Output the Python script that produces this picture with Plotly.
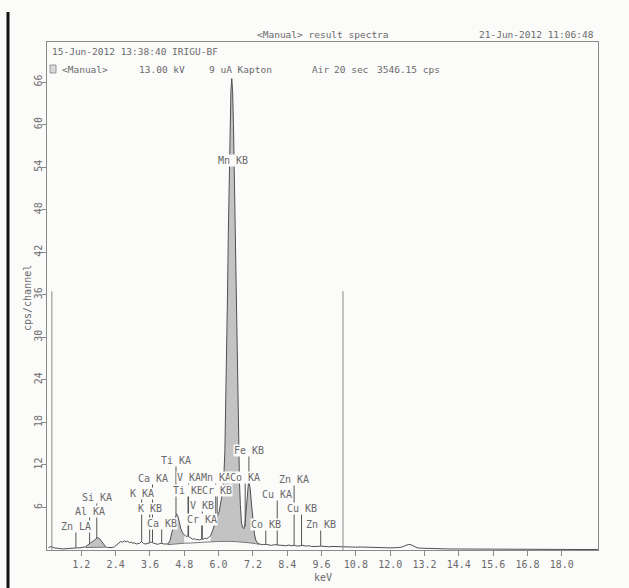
import plotly.graph_objects as go

# ---------------- data ----------------
kev = [0.05, 0.15, 0.25, 0.35, 0.45, 0.55, 0.65, 0.75, 0.85, 0.95, 1.05, 1.15, 1.25,
       1.35, 1.42, 1.49, 1.56, 1.63, 1.70, 1.77, 1.84, 1.91, 1.98, 2.05,
       2.12, 2.20, 2.28, 2.36, 2.44, 2.52, 2.58, 2.64, 2.70, 2.76, 2.82, 2.88, 2.94,
       3.00, 3.06, 3.12, 3.18, 3.24, 3.31, 3.38, 3.45, 3.52, 3.59, 3.66, 3.73, 3.80,
       3.87, 3.94, 4.01, 4.08, 4.15,
       4.22, 4.30, 4.36, 4.42, 4.48, 4.53, 4.58, 4.63, 4.68, 4.74, 4.80,
       4.86, 4.92, 4.98, 5.04, 5.10, 5.16, 5.22, 5.28, 5.34, 5.40, 5.46, 5.52, 5.58, 5.64,
       5.72, 5.78, 5.84, 5.90, 5.96, 6.02, 6.07, 6.11, 6.15, 6.19, 6.22, 6.25, 6.28,
       6.31, 6.34, 6.37, 6.40, 6.43, 6.46, 6.49, 6.52, 6.55, 6.58, 6.61, 6.64, 6.67,
       6.70, 6.73, 6.76, 6.80, 6.84, 6.88, 6.92, 6.96, 7.00, 7.05, 7.10, 7.15, 7.20,
       7.25, 7.30, 7.36, 7.42,
       7.48, 7.56, 7.65, 7.75, 7.85, 7.95, 8.05, 8.15, 8.25, 8.35, 8.45, 8.55, 8.65,
       8.75, 8.85, 8.95, 9.05, 9.15, 9.25, 9.35, 9.45, 9.57, 9.70, 9.85, 10.0, 10.2,
       10.4, 10.6, 10.8, 11.0, 11.2, 11.4, 11.6, 11.8, 12.0, 12.2, 12.4, 12.55, 12.65,
       12.75, 12.85, 12.95, 13.1, 13.3, 13.6, 14.0, 14.5, 15.0, 15.5, 16.0, 16.5, 17.0,
       17.5, 18.0, 18.5, 19.0, 19.27]
cps = [0.35, 0.5, 0.3, 0.2, 0.2, 0.15, 0.2, 0.2, 0.25, 0.25, 0.3, 0.3, 0.35,
       0.45, 0.7, 0.95, 1.1, 1.3, 1.55, 1.75, 1.6, 1.2, 0.75, 0.45,
       0.35, 0.3, 0.35, 0.45, 0.7, 1.0, 1.2, 1.1, 1.3, 1.15, 1.25, 1.05, 1.1,
       0.95, 1.0, 0.85, 0.9, 0.95, 1.2, 0.9, 0.85, 0.95, 1.05, 1.1, 0.95, 0.85,
       0.8, 0.9, 0.95, 0.85, 0.8,
       0.85, 1.3, 2.2, 3.4, 4.5, 5.1, 4.7, 3.8, 3.0, 2.4, 2.1,
       1.9, 2.0, 1.8, 1.6, 1.5, 1.6, 1.45, 1.5, 1.4, 1.55, 1.5, 1.65, 1.6, 1.75,
       2.0, 2.6, 3.4, 4.2, 4.8, 5.4, 6.3, 7.5, 9.0, 11.0, 14.0, 20.0, 27.3,
       35.7, 44.6, 53.0, 60.0, 64.7, 66.5, 64.7, 60.0, 53.0, 44.6, 35.7, 27.3, 20.0,
       14.0, 9.6, 6.4, 3.8, 3.2, 3.0, 3.6, 5.0, 7.3, 9.8, 8.8, 6.5, 4.1,
       2.3, 1.4, 1.0, 0.85,
       0.8, 0.75, 0.8, 0.7, 0.65, 0.75, 0.7, 0.6, 0.65, 0.6, 0.7, 0.6, 0.65,
       0.55, 0.6, 0.65, 0.55, 0.6, 0.5, 0.55, 0.5, 0.55, 0.5, 0.45, 0.5, 0.45,
       0.5, 0.45, 0.4, 0.42, 0.38, 0.35, 0.33, 0.3, 0.3, 0.32, 0.4, 0.65, 0.8,
       0.7, 0.45, 0.3, 0.25, 0.2, 0.2, 0.15, 0.15, 0.12, 0.12, 0.1, 0.1, 0.08,
       0.1, 0.08, 0.08, 0.06, 0.06]

# continuum under the fitted peaks
si_bg_kev = [1.35, 1.70, 2.05]
si_bg_cps = [0.35, 0.40, 0.40]
main_bg_kev = [4.22, 4.50, 4.80, 5.10, 5.40, 5.72, 6.00, 6.30, 6.60, 6.90, 7.20, 7.42]
main_bg_cps = [0.75, 0.85, 0.95, 1.00, 1.08, 1.15, 1.20, 1.22, 1.18, 1.08, 0.95, 0.80]

# shaded peak windows
window_lo = [1.35, 4.22, 5.72]
window_hi = [2.05, 4.80, 7.42]

# identified lines
line_names = ["Zn LA", "Al KA", "Si KA", "K KA", "K KB", "Ca KA", "Ca KB", "Ti KA",
              "Ti KB", "V KA", "V KB", "Cr KA", "Cr KB", "Mn KA", "Mn KB", "Fe KB",
              "Co KA", "Co KB", "Cu KA", "Zn KA", "Cu KB", "Zn KB"]
line_kev = [1.01, 1.49, 1.74, 3.31, 3.59, 3.69, 4.01, 4.51,
            4.93, 4.95, 5.43, 5.41, 5.95, 5.90, 6.49, 7.06,
            6.93, 7.65, 8.05, 8.64, 8.90, 9.57]
label_cps = [3.3, 5.4, 7.4, 8.0, 5.85, 10.1, 3.7, 12.6,
             8.4, 10.2, 6.3, 4.3, 8.4, 10.2, 54.9, 14.0,
             10.2, 3.6, 7.8, 9.9, 5.85, 3.6]
line_base_cps = [0.3, 0.95, 1.65, 1.2, 1.05, 1.05, 0.95, 5.0,
                 2.0, 2.0, 1.55, 1.55, 4.7, 4.2, 54.9, 9.7,
                 3.3, 0.8, 0.7, 0.65, 0.65, 0.55]

cursor_kev = [0.17, 10.35]
cursor_cps = [36.5, 36.5]

x_tick_vals = [1.2, 2.4, 3.6, 4.8, 6.0, 7.2, 8.4, 9.6, 10.8, 12.0, 13.2, 14.4, 15.6, 16.8, 18.0]
x_tick_text = ["1.2", "2.4", "3.6", "4.8", "6.0", "7.2", "8.4", "9.6", "10.8", "12.0",
               "13.2", "14.4", "15.6", "16.8", "18.0"]
y_tick_vals = [6, 12, 18, 24, 30, 36, 42, 48, 54, 60, 66]

title_text = "&lt;Manual&gt; result spectra"
print_date = "21-Jun-2012 11:06:48"
sample_line = "15-Jun-2012 13:38:40 IRIGU-BF"
cond_texts = ["&lt;Manual&gt;", "13.00 kV", "9 uA Kapton", "Air", "20 sec", "3546.15 cps"]

# ---------------- styling / layout ----------------
PAPER = "#fbfbfa"
TEXT = "#6a6a6a"
AXIS = "#8a8a8a"
FONT = "DejaVu Sans Mono"

L, R, T, B = 47, 31, 42, 38
W, H = 629, 588
PW, PH = W - L - R, H - T - B


def px_x(p):
    return (p - L) / PW


def px_y(p):
    return (H - B - p) / PH


fig = go.Figure()

all_bg_kev = si_bg_kev + main_bg_kev
all_bg_cps = si_bg_cps + main_bg_cps

# grey peak fills (spectrum down to the continuum)
for lo, hi in zip(window_lo, window_hi):
    sx = [k for k in kev if lo <= k <= hi]
    sy = [c for k, c in zip(kev, cps) if lo <= k <= hi]
    bx = [k for k in all_bg_kev if lo <= k <= hi]
    by = [c for k, c in zip(all_bg_kev, all_bg_cps) if lo <= k <= hi]
    fig.add_trace(go.Scatter(x=sx + bx[::-1], y=sy + by[::-1], fill="toself",
                             fillcolor="#c3c3c3", mode="lines",
                             line=dict(width=0), hoverinfo="skip"))

# continuum curves
fig.add_trace(go.Scatter(x=si_bg_kev, y=si_bg_cps, mode="lines",
                         line=dict(color="#777", width=1), hoverinfo="skip"))
fig.add_trace(go.Scatter(x=main_bg_kev, y=main_bg_cps, mode="lines",
                         line=dict(color="#777", width=1, shape="spline"), hoverinfo="skip"))

# line markers
mx, my = [], []
for e, top, base in zip(line_kev, label_cps, line_base_cps):
    if base < top:
        mx += [e, e, None]
        my += [top, base, None]
fig.add_trace(go.Scatter(x=mx, y=my, mode="lines", line=dict(color="#555", width=1),
                         hoverinfo="skip"))

# spectrum outline
fig.add_trace(go.Scatter(x=kev, y=cps, mode="lines", line=dict(color="#505050", width=1),
                         hoverinfo="skip"))

# cursors
cx, cy = [], []
for e, h in zip(cursor_kev, cursor_cps):
    cx += [e, e, None]
    cy += [0, h, None]
fig.add_trace(go.Scatter(x=cx, y=cy, mode="lines", line=dict(color="#8a8a8a", width=1),
                         hoverinfo="skip"))

# labels of identified lines (opaque, sit on top of the spectrum)
for name, e, yc in zip(line_names, line_kev, label_cps):
    fig.add_annotation(x=e, y=yc, xref="x", yref="y", text=name, showarrow=False,
                       xanchor="center", yanchor="middle",
                       bgcolor=PAPER, borderpad=0, font=dict(size=10, color=TEXT, family=FONT))

# header texts
hdr_font = dict(size=9.5, color=TEXT, family=FONT)
fig.add_annotation(x=0.5, y=px_y(34), xref="paper", yref="paper", text=title_text,
                   showarrow=False, xanchor="center", yanchor="middle", font=hdr_font)
fig.add_annotation(x=px_x(596), y=px_y(34), xref="paper", yref="paper", text=print_date,
                   showarrow=False, xanchor="right", yanchor="middle", font=hdr_font)
fig.add_annotation(x=px_x(50), y=px_y(52), xref="paper", yref="paper", text=sample_line,
                   showarrow=False, xanchor="left", yanchor="middle", font=hdr_font)
for t, p in zip(cond_texts, [60, 137, 207, 310, 332, 375]):
    fig.add_annotation(x=px_x(p), y=px_y(69), xref="paper", yref="paper", text=t,
                       showarrow=False, xanchor="left", yanchor="middle", font=hdr_font)

# legend swatch
fig.add_shape(type="rect", xref="paper", yref="paper", x0=px_x(50), x1=px_x(56),
              y0=px_y(73), y1=px_y(65), fillcolor="#d8d8d8", line=dict(color="#999", width=1))

# y title
fig.add_annotation(x=px_x(27), y=px_y(298), xref="paper", yref="paper", text="cps/channel",
                   showarrow=False, textangle=-90, xanchor="center", yanchor="middle",
                   font=dict(size=10, color=TEXT, family=FONT))

# x title
fig.add_annotation(x=0.5, y=px_y(577), xref="paper", yref="paper", text="keV",
                   showarrow=False, xanchor="center", yanchor="middle",
                   font=dict(size=10, color=TEXT, family=FONT))

# scan edge
fig.add_shape(type="line", xref="paper", yref="paper", x0=px_x(8), x1=px_x(8),
              y0=px_y(12), y1=px_y(588), line=dict(color="#111", width=3))

fig.update_layout(width=W, height=H, margin=dict(l=L, r=R, t=T, b=B, autoexpand=False),
                  paper_bgcolor=PAPER, plot_bgcolor=PAPER, showlegend=False,
                  font=dict(family=FONT, size=10, color=TEXT))
fig.update_xaxes(range=[0, PW / 28.6], tickvals=x_tick_vals, ticktext=x_tick_text,
                 ticks="outside", ticklen=5, tickcolor=AXIS, showline=True, linecolor=AXIS,
                 linewidth=1, mirror=True, showgrid=False, zeroline=False, automargin=False,
                 tickfont=dict(size=10, color=TEXT, family=FONT))
fig.update_yaxes(range=[0, PH / 7.09], tickvals=y_tick_vals, ticks="outside", ticklen=4,
                 tickcolor=AXIS, tickangle=-90, ticklabelstandoff=-4, showline=True,
                 linecolor=AXIS, linewidth=1, automargin=False,
                 mirror=True, showgrid=False, zeroline=False,
                 tickfont=dict(size=10, color=TEXT, family=FONT))

fig.write_html("out.html", config={"displayModeBar": False},
               post_script="document.body.style.margin='0';"
                           "document.body.style.background='#fbfbfa';")
